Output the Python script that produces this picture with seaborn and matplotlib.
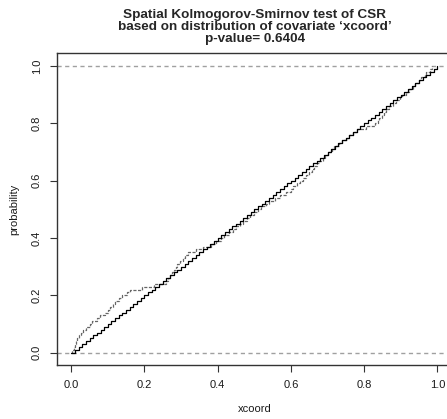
import matplotlib

matplotlib.use("Agg")

import matplotlib.pyplot as plt
import numpy as np
import pandas as pd
import seaborn as sns

sns.set_style("white")
plt.rcParams["font.family"] = ["Liberation Sans", "DejaVu Sans"]

# observed covariate values (sorted xcoord of the points), ecdf steps of 1/n
observed_x = [
    0.000, 0.003, 0.007, 0.010, 0.013, 0.017, 0.020, 0.027, 0.033, 0.040,
    0.052, 0.058, 0.071, 0.079, 0.092, 0.100, 0.106, 0.114, 0.120, 0.131,
    0.138, 0.151, 0.160, 0.194, 0.226, 0.260, 0.265, 0.269, 0.276, 0.280,
    0.286, 0.290, 0.297, 0.306, 0.311, 0.320, 0.341, 0.359, 0.381, 0.395,
    0.408, 0.418, 0.430, 0.441, 0.449, 0.462, 0.469, 0.481, 0.489, 0.500,
    0.511, 0.519, 0.531, 0.540, 0.556, 0.569, 0.586, 0.600, 0.607, 0.618,
    0.624, 0.634, 0.641, 0.650, 0.658, 0.663, 0.672, 0.678, 0.687, 0.692,
    0.700, 0.711, 0.719, 0.731, 0.739, 0.752, 0.759, 0.770, 0.780, 0.806,
    0.829, 0.837, 0.841, 0.849, 0.853, 0.861, 0.868, 0.879, 0.886, 0.897,
    0.904, 0.915, 0.922, 0.933, 0.940, 0.951, 0.956, 0.965, 0.970, 0.979,
    0.985,
]
observed_p = [i / (len(observed_x) - 1) for i in range(len(observed_x))]

# predicted cdf of xcoord under CSR, evaluated on the pixel grid
expected_x = [
    0.00, 0.01, 0.02, 0.03, 0.04, 0.05, 0.06, 0.07, 0.08, 0.09,
    0.10, 0.11, 0.12, 0.13, 0.14, 0.15, 0.16, 0.17, 0.18, 0.19,
    0.20, 0.21, 0.22, 0.23, 0.24, 0.25, 0.26, 0.27, 0.28, 0.29,
    0.30, 0.31, 0.32, 0.33, 0.34, 0.35, 0.36, 0.37, 0.38, 0.39,
    0.40, 0.41, 0.42, 0.43, 0.44, 0.45, 0.46, 0.47, 0.48, 0.49,
    0.50, 0.51, 0.52, 0.53, 0.54, 0.55, 0.56, 0.57, 0.58, 0.59,
    0.60, 0.61, 0.62, 0.63, 0.64, 0.65, 0.66, 0.67, 0.68, 0.69,
    0.70, 0.71, 0.72, 0.73, 0.74, 0.75, 0.76, 0.77, 0.78, 0.79,
    0.80, 0.81, 0.82, 0.83, 0.84, 0.85, 0.86, 0.87, 0.88, 0.89,
    0.90, 0.91, 0.92, 0.93, 0.94, 0.95, 0.96, 0.97, 0.98, 0.99,
    1.00,
]
expected_p = expected_x

ref_levels = [0.0, 1.0]
x_ticks = [0.0, 0.2, 0.4, 0.6, 0.8, 1.0]
y_ticks = [0.0, 0.2, 0.4, 0.6, 0.8, 1.0]
title_lines = [
    "Spatial Kolmogorov-Smirnov test of CSR",
    "based on distribution of covariate \u2018xcoord\u2019",
    "p-value= 0.6404",
]

W, H = 447, 419
fig = plt.figure(figsize=(W / 100, H / 100), dpi=100)
left, right, top, bottom = 57.3, 452.0, 53.3, 365.0
ax = fig.add_axes([left / W, 1 - bottom / H, (right - left) / W, (bottom - top) / H])

obs = pd.DataFrame({"x": observed_x, "p": observed_p})
exp = pd.DataFrame({"x": expected_x, "p": expected_p})

for lv in ref_levels:
    ax.axhline(lv, color="#a0a0a0", lw=1.0, ls=(0, (3, 2.5)), zorder=1)

sns.lineplot(data=exp, x="x", y="p", ax=ax, color="black", lw=0.9,
             drawstyle="steps-post", estimator=None, sort=False, zorder=3)
sns.lineplot(data=obs, x="x", y="p", ax=ax, color="#666666", lw=0.9,
             ls=(0, (2.5, 1.2)), drawstyle="steps-post", estimator=None,
             sort=False, zorder=2)

ax.set_xlim(-0.038, 1.04)
ax.set_ylim(-0.043, 1.044)
ax.set_xticks(x_ticks)
ax.set_yticks(y_ticks)
ax.set_xticklabels([f"{v:.1f}" for v in x_ticks])
ax.set_yticklabels([f"{v:.1f}" for v in y_ticks], rotation=90, va="center")
ax.tick_params(axis="both", direction="out", length=5, width=0.8,
               color="#333333", labelsize=8, labelcolor="#1a1a1a",
               left=True, bottom=True)
ax.tick_params(axis="x", pad=6)
ax.tick_params(axis="y", pad=6)
for s in ax.spines.values():
    s.set_color("#333333")
    s.set_linewidth(1.0)

ax.set_xlabel("xcoord", fontsize=8, color="#1a1a1a", labelpad=10)
ax.set_ylabel("probability", fontsize=8, color="#1a1a1a", labelpad=9)

cx = (left + right) / 2 / W
for i, line in enumerate(title_lines):
    fig.text(cx, 1 - (15 + 12 * i) / H, line, ha="center", va="center",
             fontsize=9.7, fontweight="bold")

fig.savefig("out.png", dpi=100)
